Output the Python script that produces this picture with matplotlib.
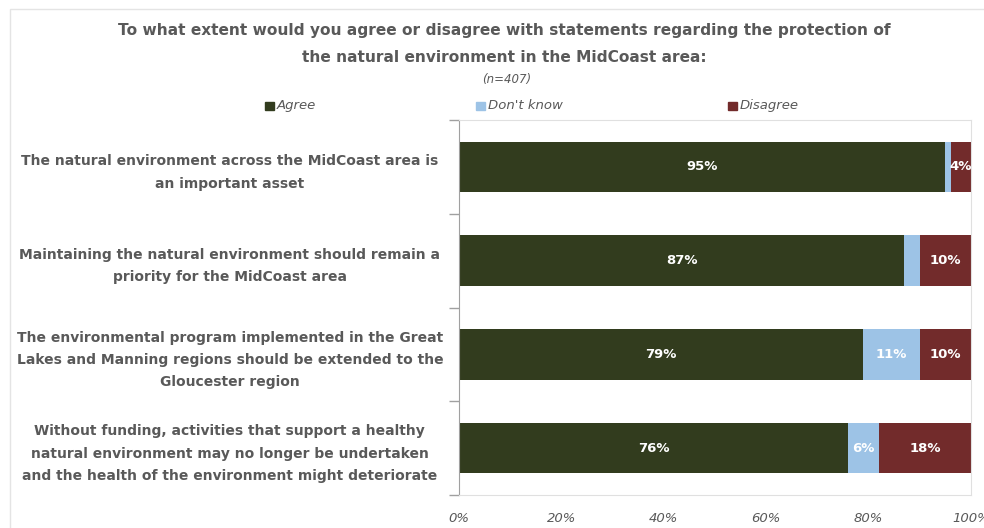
"""Stacked agreement bars for the MidCoast natural environment question."""

import matplotlib
matplotlib.use("Agg")
import matplotlib.pyplot as plt
from matplotlib.patches import Rectangle

statements = [
    "The natural environment across the MidCoast area is\nan important asset",
    "Maintaining the natural environment should remain a\npriority for the MidCoast area",
    "The environmental program implemented in the Great\nLakes and Manning regions should be extended to the\nGloucester region",
    "Without funding, activities that support a healthy\nnatural environment may no longer be undertaken\nand the health of the environment might deteriorate",
]
agree = [95, 87, 79, 76]
dont_know = [1, 3, 11, 6]
disagree = [4, 10, 10, 18]
series_names = ["Agree", "Don't know", "Disagree"]
colors = ["#323c1e", "#9dc3e6", "#722b2b"]
x_ticks = [0, 20, 40, 60, 80, 100]

grey = "#595959"
plt.rcParams["font.family"] = ["DejaVu Sans"]

fig = plt.figure(figsize=(9.84, 5.28), dpi=100)
ax = fig.add_axes([459 / 984, 1 - 495 / 528, 512 / 984, 375 / 528])

# light frame around the whole chart, as in the original export
fig.patches.append(Rectangle((10 / 984, -0.1), 1.0, 1 - 9 / 528 + 0.1,
                             transform=fig.transFigure, fill=False,
                             edgecolor="#e4e4e4", linewidth=1))

positions = list(range(len(statements)))
left = [0] * len(statements)
for name, values, color in zip(series_names, [agree, dont_know, disagree], colors):
    bars = ax.barh(positions, values, left=left, height=0.54, color=color,
                   label=name)
    for bar, value in zip(bars, values):
        if value >= 4:
            ax.text(bar.get_x() + bar.get_width() / 2, bar.get_y() + bar.get_height() / 2,
                    f"{value}%", ha="center", va="center", color="white",
                    fontsize=9.5, fontweight="bold")
    left = [a + b for a, b in zip(left, values)]

ax.set_xlim(0, 100)
ax.set_ylim(len(statements) - 0.5, -0.5)
ax.set_xticks(x_ticks)
ax.set_xticklabels([f"{t}%" for t in x_ticks], fontsize=9.5, style="italic", color=grey)
ax.tick_params(axis="x", length=0, pad=12)

ax.set_yticks(positions)
ax.set_yticklabels(statements, fontsize=10, fontweight="bold", color=grey,
                   ha="center", multialignment="center", linespacing=1.75)
ax.tick_params(axis="y", length=0, pad=165)
ax.set_yticks([p + 0.5 for p in [-1] + positions], minor=True)
ax.tick_params(axis="y", which="minor", length=7, color="#a0a0a0", width=1)

for side in ("top", "right", "bottom"):
    ax.spines[side].set_color("#e0e0e0")
ax.spines["left"].set_color("#a0a0a0")

title_x = 504 / 984
fig.text(title_x, 1 - 31 / 528, "To what extent would you agree or disagree with statements regarding the protection of",
         ha="center", va="center", fontsize=11.1, fontweight="bold", color=grey)
fig.text(title_x, 1 - 57 / 528, "the natural environment in the MidCoast area:",
         ha="center", va="center", fontsize=11.1, fontweight="bold", color=grey)
fig.text(507 / 984, 1 - 80 / 528, "(n=407)", ha="center", va="center",
         fontsize=8.5, style="italic", color=grey)

legend_x = [277 / 984, 488 / 984, 740 / 984]
for h_x, name, color in zip(legend_x, series_names, colors):
    fig.patches.append(Rectangle((h_x - 0.012, 1 - 110 / 528), 0.0085, 0.016,
                                 transform=fig.transFigure, color=color))
    fig.text(h_x, 1 - 106 / 528, name, ha="left", va="center", fontsize=9.5,
             style="italic", color=grey)

fig.savefig("out.png", dpi=100)
